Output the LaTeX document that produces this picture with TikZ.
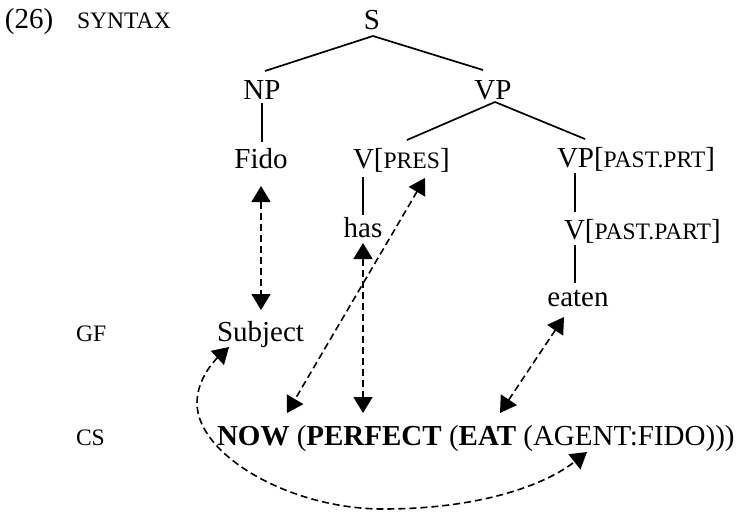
\documentclass[tikz,border=0pt]{standalone}
\usepackage{fontspec}
\setmainfont{Liberation Serif}
\usetikzlibrary{arrows.meta}
\newcommand\scap[1]{{\fontsize{23.6}{27}\selectfont #1}}
\begin{document}
\begin{tikzpicture}[x=1pt,y=-1pt,
  every node/.style={inner sep=0pt,outer sep=0pt,font=\fontsize{29}{34}\selectfont},
  txt/.style={anchor=base},
  txtl/.style={anchor=base west},
  branch/.style={line width=1.7pt},
  link/.style={line width=1.6pt,dash pattern=on 7pt off 4pt,
    {Triangle[length=16pt,width=19pt]}-{Triangle[length=16pt,width=19pt]}}]
\useasboundingbox (0,0) rectangle (744,514);
% labels
\node[txtl] (num) at (5,28) {(26)};
\node[txtl] (syn) at (77,28) {\scap{SYNTAX}};
\node[txtl] (gf) at (76,341) {\scap{GF}};
\node[txtl] (csl) at (76,445) {\scap{CS}};
% tree
\node[txt] (s) at (372,29) {S};
\node[txt] (np) at (262,99) {NP};
\node[txt] (vp) at (493,99) {VP};
\node[txt] (fido) at (261,168) {Fido};
\node[txtl] (vpres) at (353,168) {V[\scap{PRES}]};
\node[txtl] (vppast) at (557,167) {VP[\scap{PAST.PRT}]};
\node[txt] (has) at (363,237) {has};
\node[txtl] (vpart) at (564,239) {V[\scap{PAST.PART}]};
\node[txt] (eaten) at (578,306) {eaten};
\node[txtl] (subj) at (217,341) {Subject};
\node[txtl] (cs) at (217,445) {\textbf{NOW} (\textbf{PERFECT} (\textbf{EAT} (AGENT:FIDO)))};
% branches
\draw[branch] ([shift={(1,7)}]s.base) -- ([shift={(3,-28)}]np.base);
\draw[branch] ([shift={(1,7)}]s.base) -- ([shift={(-10,-29)}]vp.base);
\draw[branch] ([shift={(2,3)}]vp.base) -- ([shift={(54,-28)}]vpres.base west);
\draw[branch] ([shift={(2,3)}]vp.base) -- ([shift={(28,-28)}]vppast.base west);
\draw[branch] ([shift={(0,4)}]np.base) -- ([shift={(1,-26)}]fido.base);
\draw[branch] ([shift={(10,9)}]vpres.base west) -- ([shift={(0,-22)}]has.base);
\draw[branch] ([shift={(18,6)}]vppast.base west) -- ([shift={(11,-27)}]vpart.base west);
\draw[branch] ([shift={(11,6)}]vpart.base west) -- ([shift={(-3,-23)}]eaten.base);
% links
\draw[link] ([shift={(0,18)}]fido.base) -- ([shift={(44,-31)}]subj.base west);
\draw[link] ([shift={(72,10)}]vpres.base west) -- ([shift={(70,-32)}]cs.base west);
\draw[link] ([shift={(0,6)}]has.base) -- ([shift={(146,-32)}]cs.base west);
\draw[link] ([shift={(-14,11)}]eaten.base) -- ([shift={(283,-32)}]cs.base west);
\draw[link] ([shift={(12,6)}]subj.base west)
  .. controls (213,362) and (197,380) .. (197,403)
  .. controls (197,455) and (290,509) .. (383,509)
  .. controls (480,509) and (545,485) .. ([shift={(370,7)}]cs.base west);
\end{tikzpicture}
\end{document}
